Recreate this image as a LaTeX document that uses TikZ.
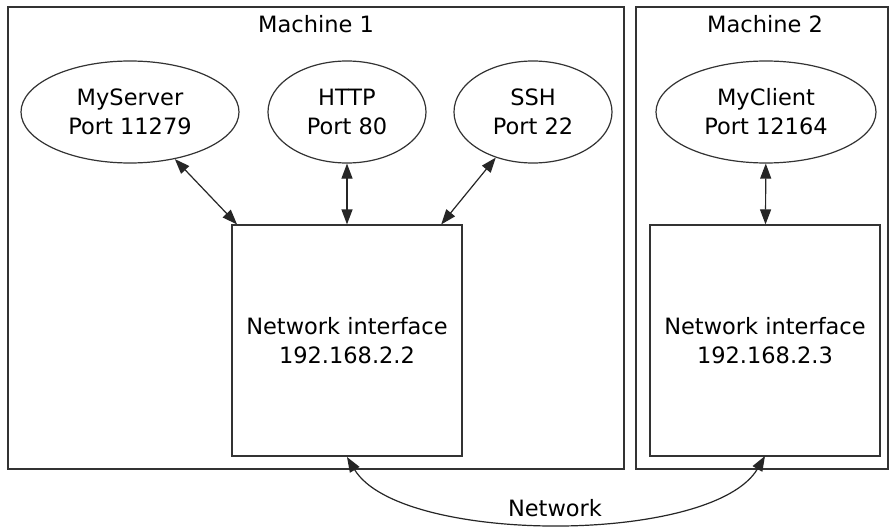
\documentclass[tikz,border=0pt]{standalone}
\usepackage{fontspec}
\setmainfont{DejaVu Sans}
\usetikzlibrary{shapes.geometric,arrows.meta}
\begin{document}
\begin{tikzpicture}[x=1pt,y=-1pt,
  every node/.style={font=\fontsize{22.5}{29}\selectfont,align=center,inner sep=0pt},
  cluster/.style={draw=black!80,line width=1.2pt},
  port/.style={ellipse,draw=black!80,line width=1.2pt,minimum height=102pt},
  iface/.style={rectangle,draw=black!80,line width=1.2pt,minimum width=230pt,minimum height=231pt},
  link/.style={line width=1.2pt,black!85,{Triangle[length=15pt,width=11pt]}-{Triangle[length=15pt,width=11pt]}}]
\useasboundingbox (0,0) rectangle (889,527);
\fill[white] (0,0) rectangle (889,527);
\draw[cluster] (8,7) rectangle (624,469);
\draw[cluster] (636,7) rectangle (888,469);
\node (m1) at (316,24) {Machine 1};
\node (m2) at (765,24) {Machine 2};
\node[port,minimum width=218pt] (srv) at (130,112) {MyServer\\Port 11279};
\node[port,minimum width=158pt] (http) at (347,112) {HTTP\\Port 80};
\node[port,minimum width=158pt] (ssh) at (533,112) {SSH\\Port 22};
\node[port,minimum width=220pt] (cli) at (766,112) {MyClient\\Port 12164};
\node[iface] (ni1) at (347,340.5) {Network interface\\192.168.2.2};
\node[iface] (ni2) at (765,340.5) {Network interface\\192.168.2.3};
\draw[link] (srv) -- (ni1);
\draw[link] (http) -- (ni1);
\draw[link] (ssh) -- (ni1);
\draw[link] (cli) -- (ni2);
\coordinate (a) at (347,457);
\coordinate (b) at (765,456);
\draw[link] (a) .. controls (400,545) and (713,545) .. (b);
\node (net) at (555,508) {Network};
\end{tikzpicture}
\end{document}
